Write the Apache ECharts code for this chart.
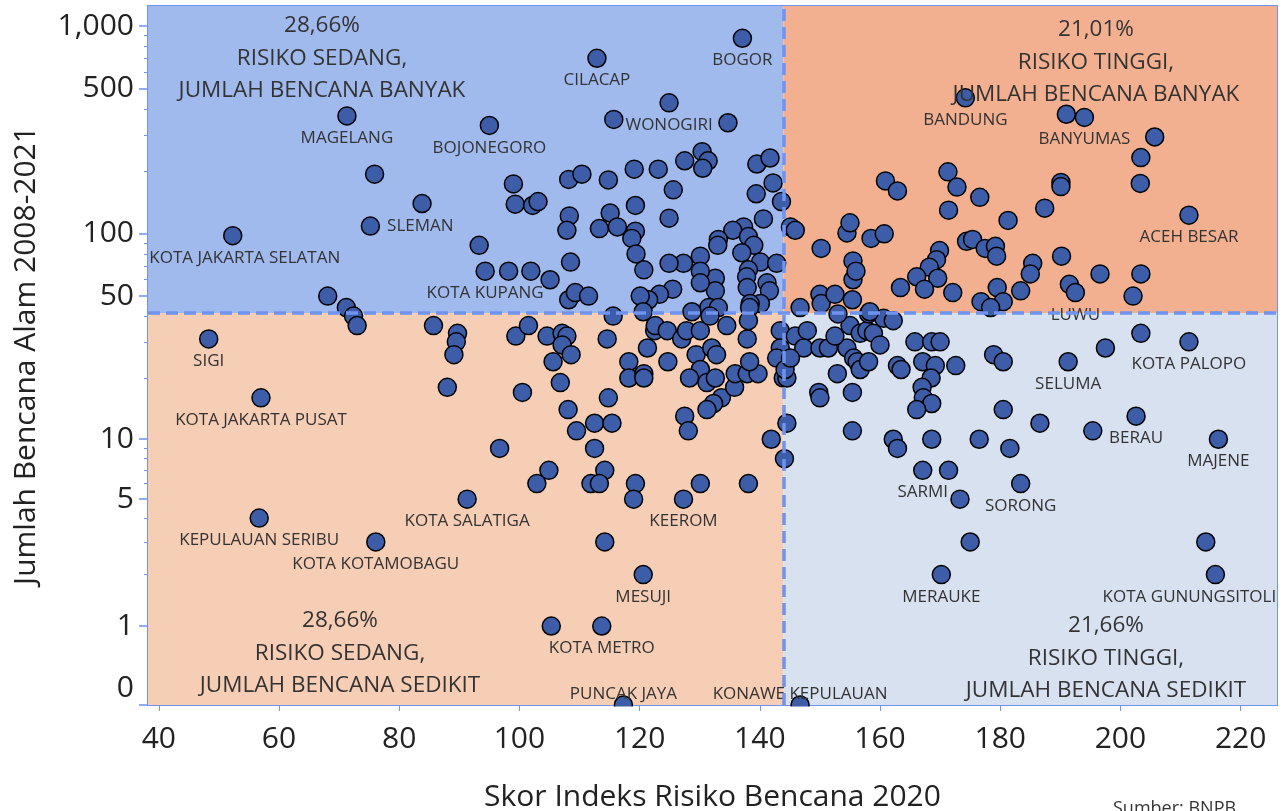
<!DOCTYPE html>
<html lang="id">
<head>
<meta charset="utf-8">
<title>Indeks Risiko Bencana vs Jumlah Bencana Alam</title>
<script src="https://cdn.jsdelivr.net/npm/echarts@6/dist/echarts.min.js"></script>
<style>
  html, body { margin: 0; padding: 0; background: #fff; }
  #main { width: 1284px; height: 811px; }
</style>
</head>
<body>
<div id="main"></div>
<script>
// kabupaten/kota yang diberi label
var labelNames = ['MAGELANG', 'BOJONEGORO', 'SLEMAN', 'KOTA JAKARTA SELATAN', 'KOTA KUPANG', 'CILACAP', 'BOGOR', 'WONOGIRI',
  'SIGI', 'KOTA JAKARTA PUSAT', 'KEPULAUAN SERIBU', 'KOTA KOTAMOBAGU', 'KOTA SALATIGA', 'KEEROM', 'MESUJI', 'KOTA METRO',
  'PUNCAK JAYA', 'KONAWE KEPULAUAN', 'BANDUNG', 'BANYUMAS', 'ACEH BESAR', 'LUWU', 'KOTA PALOPO', 'SELUMA', 'BERAU',
  'MAJENE', 'SARMI', 'SORONG', 'MERAUKE', 'KOTA GUNUNGSITOLI'];
var labelX = [71.3, 95.0, 75.2, 52.3, 94.3, 112.9, 137.1, 124.9,
  48.3, 57.0, 56.7, 76.1, 91.3, 127.3, 120.6, 113.7,
  117.3, 146.7, 174.2, 194.0, 211.4, 192.5, 211.4, 191.3, 202.6,
  216.3, 167.1, 183.4, 170.2, 215.8];
var labelY = [370, 333, 109, 98, 66, 701, 875, 428,
  31, 16, 4, 3, 5, 5, 2, 1,
  0, 0, 452, 364, 123, 52, 30, 24, 13,
  10, 7, 6, 2, 2];

// kabupaten/kota lain
var pointX = [75.9, 83.8, 99.0, 99.3, 93.3, 98.2, 68.1, 71.2, 72.4, 73.0, 102.2, 103.1, 108.2, 110.4, 114.8, 119.1, 123.1, 125.6,
  108.3, 107.9, 115.1, 113.3, 116.3, 119.3, 119.3, 124.9, 115.7, 134.7, 130.4, 131.4, 127.5, 130.5, 139.5, 141.7, 139.4, 142.2,
  143.6, 140.6, 137.3, 135.5, 138.1, 133.1, 145.1, 145.9, 118.7, 139.0, 137.0, 133.0, 140.1, 142.8, 141.2, 141.6, 140.1, 138.1,
  137.8, 137.9, 138.4, 138.3, 132.6, 132.6, 130.1, 130.1, 130.1, 127.3, 124.9, 131.5, 133.1, 128.7, 125.5, 123.3, 121.5, 120.1,
  120.6, 120.7, 119.4, 108.5, 101.9, 105.1, 108.2, 109.3, 111.5, 115.6, 99.4, 101.5, 85.7, 89.7, 89.5, 89.1, 88.0, 96.7, 100.5,
  104.9, 102.9, 114.2, 111.9, 113.3, 119.3, 119.0, 130.1, 138.1, 114.2, 105.3, 144.1, 104.6, 107.1, 107.9, 107.1, 108.6, 105.6,
  106.8, 114.6, 121.3, 122.5, 122.6, 124.6, 127.0, 127.8, 130.1, 131.7, 134.5, 137.9, 138.1, 118.2, 118.2, 120.7, 120.7, 124.7,
  129.4, 132.0, 132.8, 130.1, 128.3, 131.2, 132.6, 133.6, 132.3, 131.2, 127.5, 128.1, 135.8, 135.9, 137.9, 139.7, 138.3, 141.9,
  144.5, 143.4, 143.4, 142.8, 143.9, 144.5, 144.2, 108.1, 109.5, 112.5, 115.4, 112.5, 114.8, 145.9, 147.9, 147.3, 150.0, 151.4,
  145.1, 152.9, 154.5, 155.6, 156.2, 156.7, 158.1, 152.5, 155.0, 156.7, 157.8, 158.9, 160.0, 158.1, 160.6, 162.2, 149.8, 150.0,
  155.4, 155.4, 165.8, 168.6, 170.0, 162.9, 163.5, 167.1, 169.2, 172.6, 168.5, 167.0, 167.2, 168.6, 166.1, 178.9, 180.5, 197.5,
  203.4, 180.5, 186.6, 195.4, 162.2, 162.9, 168.6, 176.5, 181.6, 171.4, 173.3, 175.0, 214.2, 158.5, 160.7, 169.9, 169.4, 168.2,
  166.1, 169.6, 163.4, 167.4, 172.1, 174.4, 175.4, 177.5, 179.2, 179.4, 185.4, 185.0, 190.2, 179.5, 183.4, 176.8, 180.5, 178.4,
  191.5, 196.6, 203.4, 202.1, 191.0, 205.7, 203.4, 203.3, 190.1, 190.1, 171.3, 172.8, 176.6, 171.4, 160.9, 162.9, 181.3, 187.4,
  150.2, 154.5, 155.0, 155.5, 155.5, 156.0, 150.0, 150.2, 152.5, 153.0, 155.4, 158.3, 146.7];
var pointY = [194, 140, 174, 139, 88, 66, 50, 44, 40, 36, 137, 143, 183, 194, 182, 205, 205, 163,
  122, 104, 126, 106, 108, 137, 103, 119, 356, 343, 249, 225, 225, 207, 217, 232, 156, 176,
  143, 118, 108, 104, 97, 94, 108, 104, 95, 88, 81, 88, 73, 72, 58, 53, 46, 67,
  62, 55, 46, 44, 61, 53, 78, 66, 58, 72, 72, 44, 44, 42, 54, 51, 48, 50,
  42, 67, 80, 73, 66, 60, 48, 52, 50, 40, 32, 36, 36, 33, 30, 26, 18, 9, 17,
  7, 6, 7, 6, 6, 6, 5, 6, 6, 3, 1, 8, 32, 33, 32, 29, 26, 24,
  19, 31, 28, 34, 36, 34, 31, 34, 34, 40, 36, 31, 38, 24, 20, 21, 20, 24,
  26, 28, 26, 22, 20, 19, 20, 16, 15, 14, 13, 11, 18, 21, 21, 21, 24, 10,
  12, 34, 28, 25, 20, 20, 22, 14, 11, 12, 12, 9, 16, 32, 34, 28, 28, 28,
  25, 21, 28, 25, 24, 22, 24, 32, 36, 33, 34, 33, 29, 41, 39, 38, 17, 16,
  17, 11, 30, 30, 30, 23, 22, 24, 23, 23, 20, 18, 16, 15, 14, 26, 24, 28,
  33, 14, 12, 11, 10, 9, 10, 10, 9, 7, 5, 3, 3, 95, 100, 83, 75, 69,
  62, 61, 55, 54, 52, 92, 94, 85, 87, 78, 72, 64, 78, 55, 53, 47, 47, 44,
  57, 64, 64, 50, 377, 293, 233, 175, 177, 169, 199, 168, 150, 130, 180, 161, 116, 133,
  85, 101, 113, 74, 60, 66, 51, 46, 51, 41, 48, 42, 44];

var xTickValues = [40, 60, 80, 100, 120, 140, 160, 180, 200, 220];
var yTickValues = [0, 1, 5, 10, 50, 100, 500, 1000];
var yTickLabels = ['0', '1', '5', '10', '50', '100', '500', '1,000'];
var yMinorValues = [2, 3, 4, 6, 7, 8, 9, 20, 30, 40, 60, 70, 80, 90, 200, 300, 400, 600, 700, 800, 900];

// batas kuadran
var xSplit = 143.9;
var ySplit = 41.4;

var quadrantTexts = [
  ['28,66%', 'RISIKO SEDANG,', 'JUMLAH BENCANA BANYAK'],
  ['21,01%', 'RISIKO TINGGI,', 'JUMLAH BENCANA BANYAK'],
  ['28,66%', 'RISIKO SEDANG,', 'JUMLAH BENCANA SEDIKIT'],
  ['21,66%', 'RISIKO TINGGI,', 'JUMLAH BENCANA SEDIKIT']
];

// sumbu y: skala log yang masih bisa menampung nilai 0
var Y_ZERO = -0.266;
var Y_TOP = 3.0975;
function ty(v) {
  return v <= 0 ? Y_ZERO : Math.log10(v + 0.3);
}

var X_MIN = 38.2, X_MAX = 226.05;
var FONT = '"Open Sans", "Noto Sans", sans-serif';
var TEXT = '#333333';
var LINE = '#6f93ef';
var SYMBOL = 18;

var yLabelPos = yTickValues.map(function (v) { return v === 0 ? Y_ZERO + 0.082 : ty(v); });

var labelTweak = {
  'SLEMAN': { position: 'right', distance: 7 },
  'KOTA JAKARTA SELATAN': { offset: [12, 0] },
  'KOTA GUNUNGSITOLI': { offset: [-26, 0] },
  'PUNCAK JAYA': { position: 'top', distance: -7 },
  'KONAWE KEPULAUAN': { position: 'top', distance: -7 }
};

var scatterData = [];
pointX.forEach(function (x, i) {
  scatterData.push({ value: [x, ty(pointY[i])] });
});
labelNames.forEach(function (name, i) {
  var lab = { show: true, position: 'bottom', distance: 4, formatter: name };
  var tw = labelTweak[name];
  if (tw) { for (var k in tw) lab[k] = tw[k]; }
  scatterData.push({ name: name, value: [labelX[i], ty(labelY[i])], label: lab });
});

var quadFill = ['#a0baee', '#f2b091', '#f6cdb5', '#d8e1f0'];
var yS = ty(ySplit);

var textPos = [[322, 26], [1096, 30], [340, 621], [1106, 626]];
var graphics = [];
quadrantTexts.forEach(function (lines, q) {
  lines.forEach(function (s, j) {
    graphics.push({
      type: 'text', x: textPos[q][0], y: textPos[q][1] + j * 32.3, z: 50,
      style: { text: s, fill: TEXT, font: '22.5px ' + FONT, textAlign: 'center', textVerticalAlign: 'middle' }
    });
  });
});
graphics.push({
  type: 'text', left: 1113, top: 800,
  style: { text: 'Sumber: BNPB', fill: TEXT, font: '18px ' + FONT }
});

var chart = echarts.init(document.getElementById('main'));
chart.setOption({
  animation: false,
  backgroundColor: '#ffffff',
  textStyle: { fontFamily: FONT },
  grid: {
    left: 148, top: 6, width: 1129, height: 699, outerBoundsMode: 'none',
    show: true, borderColor: LINE, borderWidth: 2, backgroundColor: 'transparent'
  },
  xAxis: {
    type: 'value', min: X_MIN, max: X_MAX,
    name: 'Skor Indeks Risiko Bencana 2020', nameLocation: 'middle', nameGap: 77,
    nameTextStyle: { fontSize: 30, color: '#222', fontFamily: FONT },
    axisLine: { show: true, onZero: false, lineStyle: { color: LINE, width: 2 } },
    axisTick: { show: true, length: 6, customValues: xTickValues, lineStyle: { color: LINE, width: 1 } },
    axisLabel: { customValues: xTickValues, fontSize: 30, color: '#222', margin: 19, fontFamily: FONT },
    splitLine: { show: false }
  },
  yAxis: [{
    type: 'value', min: Y_ZERO, max: Y_TOP,
    name: 'Jumlah Bencana Alam 2008-2021', nameLocation: 'middle', nameGap: 107,
    nameTextStyle: { fontSize: 30, color: '#222', fontFamily: FONT },
    axisLine: { show: true, onZero: false, lineStyle: { color: LINE, width: 2 } },
    axisTick: { show: true, length: 9, customValues: yTickValues.map(ty), lineStyle: { color: LINE, width: 1.5 } },
    axisLabel: {
      customValues: yLabelPos, fontSize: 30, color: '#222', margin: 14, fontFamily: FONT,
      formatter: function (val) {
        var best = 0;
        for (var i = 1; i < yLabelPos.length; i++) {
          if (Math.abs(yLabelPos[i] - val) < Math.abs(yLabelPos[best] - val)) best = i;
        }
        return yTickLabels[best];
      }
    },
    splitLine: { show: false }
  }, {
    type: 'value', min: Y_ZERO, max: Y_TOP, position: 'left',
    axisLine: { show: false },
    axisTick: { show: true, length: 4, customValues: yMinorValues.map(ty), lineStyle: { color: LINE, width: 1 } },
    axisLabel: { show: false },
    splitLine: { show: false }
  }],
  graphic: graphics,
  series: [{
    // latar kuadran
    type: 'scatter', data: [], z: 1, silent: true,
    markArea: {
      silent: true,
      data: [
        [{ coord: [X_MIN, yS], itemStyle: { color: quadFill[0] } }, { coord: [xSplit, Y_TOP] }],
        [{ coord: [xSplit, yS], itemStyle: { color: quadFill[1] } }, { coord: [X_MAX, Y_TOP] }],
        [{ coord: [X_MIN, Y_ZERO], itemStyle: { color: quadFill[2] } }, { coord: [xSplit, yS] }],
        [{ coord: [xSplit, Y_ZERO], itemStyle: { color: quadFill[3] } }, { coord: [X_MAX, yS] }]
      ]
    }
  }, {
    type: 'scatter', z: 2,
    symbol: 'circle', symbolSize: SYMBOL,
    itemStyle: { color: '#3d5da8', borderColor: '#000', borderWidth: 1.5, opacity: 1 },
    label: { color: TEXT, fontSize: 17, fontFamily: FONT },
    data: scatterData
  }, {
    // garis pembagi kuadran
    type: 'scatter', data: [], z: 3, silent: true,
    markLine: {
      silent: true, symbol: 'none', label: { show: false },
      lineStyle: { color: LINE, width: 3.5, type: [12, 6], opacity: 1 },
      data: [{ xAxis: xSplit }, { yAxis: yS }]
    }
  }]
});

// titik bernilai 0 terpotong di tepi bawah area plot, seperti aslinya
var masks = [];
labelY.forEach(function (v, i) {
  if (v > 0) return;
  var p = chart.convertToPixel({ seriesIndex: 1 }, [labelX[i], ty(v)]);
  masks.push({
    type: 'rect', z: 100, silent: true,
    shape: { x: p[0] - SYMBOL / 2 - 2, y: p[1] + 1.5, width: SYMBOL + 4, height: SYMBOL / 2 + 2 },
    style: { fill: '#ffffff' }
  });
});
chart.setOption({ graphic: graphics.concat(masks) });
</script>
</body>
</html>
